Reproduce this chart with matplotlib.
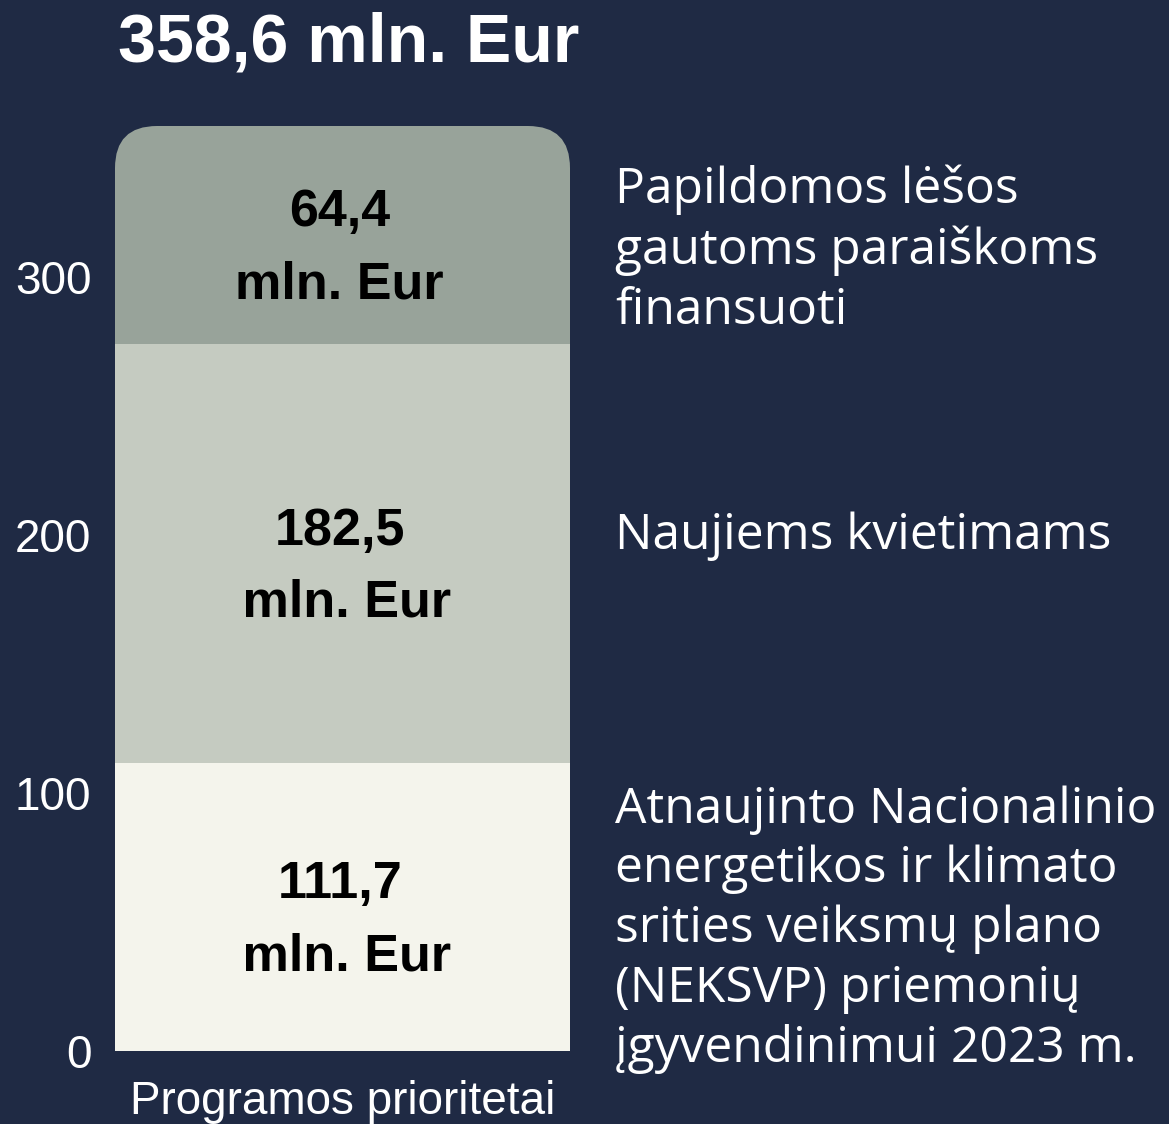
import numpy as np
import matplotlib.pyplot as plt
from matplotlib.patches import FancyBboxPatch

# chart data (bottom -> top), heights as drawn in the picture
seg_heights = [111.7, 162.5, 84.4]
seg_labels = ['111,7\n mln. Eur', '182,5\n mln. Eur', '64,4\nmln. Eur']
seg_colors = ['#f4f4ec', '#c5cbc1', '#98a39a']
yticks = [0, 100, 200, 300]
title = '358,6 mln. Eur'
category = 'Programos prioritetai'
side_texts = [
    'Atnaujinto Nacionalinio\nenergetikos ir klimato\nsrities veiksmų plano\n(NEKSVP) priemonių\nįgyvendinimui 2023 m.',
    'Naujiems kvietimams',
    'Papildomos lėšos\ngautoms paraiškoms\nfinansuoti',
]
# last-line baselines of the side texts (pixels from top)
side_baselines = [1062, 549, 324]

bg = '#1f2a44'
W, H = 1169, 1124
sans = 'Liberation Sans'

fig = plt.figure(figsize=(W / 100, H / 100), dpi=100, facecolor=bg)
ax_l, ax_r, ax_t, ax_b = 115, 570, 126, 1051
ax = fig.add_axes([ax_l / W, (H - ax_b) / H, (ax_r - ax_l) / W, (ax_b - ax_t) / H])
ax.set_facecolor(bg)

total = sum(seg_heights)
bottoms = np.concatenate([[0], np.cumsum(seg_heights)[:-1]])
bars = ax.bar([0] * len(seg_heights), seg_heights, width=1.0, bottom=bottoms,
              color=seg_colors, linewidth=0)
ax.set_xlim(-0.5, 0.5)
ax.set_ylim(0, total)

# rounded top corners through a clip path
aw, ah = ax_r - ax_l, ax_b - ax_t
radius = 42
clip = FancyBboxPatch((0, -0.2), 1, 1.2,
                      boxstyle='round,pad=0,rounding_size=%f' % (radius / aw),
                      mutation_aspect=aw / ah, transform=ax.transAxes,
                      facecolor='none', edgecolor='none')
for b in bars:
    b.set_clip_path(clip)

# value labels inside segments
for lab, b0, h in zip(seg_labels, bottoms, seg_heights):
    ax.annotate(lab, (0, b0 + h / 2), xytext=(-2, -10), textcoords='offset points',
                ha='center', va='center', fontsize=37.5, fontweight='bold',
                family=sans, color='black', linespacing=1.6)

for s in ax.spines.values():
    s.set_visible(False)
ax.set_xticks([])
ax.set_yticks(yticks)
ax.set_yticklabels([str(t) for t in yticks])
ax.tick_params(axis='y', length=0, pad=17, labelsize=33, labelcolor='white')
for t in ax.get_yticklabels():
    t.set_family(sans)

fig.text(118 / W, (H - 62) / H, title, ha='left', va='baseline', fontsize=49,
         fontweight='bold', family=sans, color='white')
fig.text((ax_l + ax_r) / 2 / W, (H - 1114) / H, category, ha='center', va='baseline',
         fontsize=33, family=sans, color='white')

for txt, yb in zip(side_texts, side_baselines):
    fig.text(615 / W, (H - yb) / H, txt, ha='left', va='baseline', fontsize=35.8,
             family='Open Sans', color='white', linespacing=1.27)

fig.savefig('out.png', dpi=100, facecolor=bg)
